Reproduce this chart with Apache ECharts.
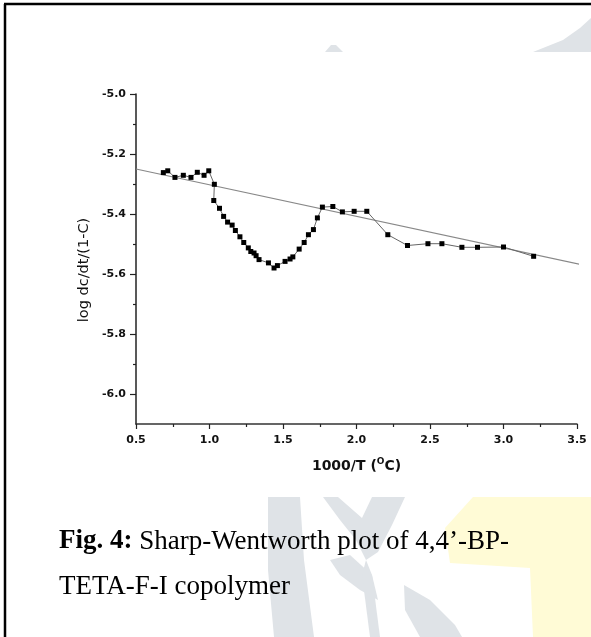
<!DOCTYPE html>
<html><head><meta charset="utf-8">
<script src="https://cdn.jsdelivr.net/npm/echarts@6/dist/echarts.min.js"></script>
<style>html,body{margin:0;padding:0;background:#fff}#c{width:591px;height:637px}</style>
</head><body><div id="c"></div>
<script>
// measured points, in order of acquisition: [1000/T, log dc/dt/(1-C)]
const xData = [0.686,0.716,0.765,0.822,0.874,0.917,0.963,0.995,1.033,1.029,1.068,1.096,1.123,1.154,1.176,1.207,1.233,1.264,1.281,1.303,1.317,1.337,1.401,1.439,1.462,1.514,1.548,1.567,1.610,1.644,1.673,1.707,1.734,1.768,1.839,1.904,1.984,2.070,2.213,2.347,2.486,2.581,2.717,2.823,3.000,3.205];
const yData = [-5.262,-5.256,-5.278,-5.271,-5.278,-5.261,-5.271,-5.256,-5.301,-5.355,-5.381,-5.408,-5.427,-5.437,-5.455,-5.476,-5.495,-5.513,-5.525,-5.530,-5.539,-5.552,-5.563,-5.580,-5.572,-5.558,-5.550,-5.543,-5.517,-5.495,-5.469,-5.452,-5.413,-5.377,-5.375,-5.393,-5.391,-5.391,-5.469,-5.505,-5.499,-5.499,-5.511,-5.511,-5.510,-5.541];
// linear fit line end points
const fitX = [0.5, 3.516];
const fitY = [-5.25, -5.567];
// axis ticks
const xTicks = [0.5,1.0,1.5,2.0,2.5,3.0,3.5];
const yMajor = [-6.0,-5.8,-5.6,-5.4,-5.2,-5.0];
const yMinor = [-5.9,-5.7,-5.5,-5.3,-5.1];
const xTitle = '1000/T ({s|O}C)';
const yTitle = 'log dc/dt/(1-C)';

const pts = xData.map((x,i)=>[x,yData[i]]);
const fit = fitX.map((x,i)=>[x,fitY[i]]);
const lab = {fontFamily:'DejaVu Sans',fontWeight:'bold',fontSize:11,color:'#111'};
const chart = echarts.init(document.getElementById('c'),null,{renderer:'canvas'});
chart.setOption({
  animation:false,
  backgroundColor:'#fff',
  grid:{left:136,right:14,top:94,bottom:213},
  xAxis:{type:'value',min:0.5,max:3.5,interval:0.5,
    axisLine:{lineStyle:{color:'#333',width:1.5}},
    axisTick:{inside:false,length:5,lineStyle:{color:'#222',width:1.2}},
    minorTick:{show:true,splitNumber:2,length:3,lineStyle:{color:'#222',width:1.2}},
    splitLine:{show:false},minorSplitLine:{show:false},
    axisLabel:Object.assign({margin:11,formatter:v=>v.toFixed(1)},lab),
    name:xTitle,nameLocation:'middle',nameGap:33,
    nameTextStyle:{fontFamily:'DejaVu Sans',fontWeight:'bold',fontSize:14,color:'#111',
      rich:{s:{fontFamily:'DejaVu Sans',fontWeight:'bold',fontSize:9,color:'#111',padding:[0,0,9,0]}}}
  },
  yAxis:[{type:'value',min:-6.1,max:-5.0,
    axisLine:{show:true,lineStyle:{color:'#222',width:1.5}},
    axisTick:{show:true,length:6,customValues:yMajor,lineStyle:{color:'#222',width:1.2}},
    splitLine:{show:false},
    axisLabel:Object.assign({margin:10,customValues:yMajor,formatter:v=>v.toFixed(1)},lab)
  },{type:'value',min:-6.1,max:-5.0,position:'left',
    axisLine:{show:false},axisLabel:{show:false},splitLine:{show:false},
    axisTick:{show:true,length:3,customValues:yMinor,lineStyle:{color:'#222',width:1.2}}
  }],
  series:[
    {type:'line',data:fit,symbol:'none',clip:false,lineStyle:{color:'#888',width:1.2},z:1},
    {type:'line',data:pts,symbol:'rect',symbolSize:5,itemStyle:{color:'#000'},lineStyle:{color:'#666',width:1},z:3}
  ],
  graphic:[
    {type:'polygon',z:-20,shape:{points:[[533,52],[563,40],[580,28],[591,18],[591,52]]},style:{fill:'#dfe3e7'}},
    {type:'polygon',z:-20,shape:{points:[[325,52],[331,45],[336,45],[343,52]]},style:{fill:'#dfe3e7'}},
    {type:'polygon',z:-20,shape:{points:[[473,497],[591,497],[591,637],[533,637],[530,568],[450,563],[445,528]]},style:{fill:'#fffbd6'}},
    {type:'polygon',z:-19,shape:{points:[[268,497],[300,497],[304,560],[314,637],[274,637],[268,570]]},style:{fill:'#dfe3e7'}},
    {type:'polygon',z:-19,shape:{points:[[323,497],[338,497],[362,518],[372,497],[405,497],[392,525],[378,552],[366,560],[356,540],[340,520]]},style:{fill:'#dfe3e7'}},
    {type:'polygon',z:-19,shape:{points:[[330,560],[350,555],[372,575],[378,600],[360,590],[340,575]]},style:{fill:'#dfe3e7'}},
    {type:'polygon',z:-19,shape:{points:[[404,585],[430,600],[455,625],[462,637],[420,637],[405,610]]},style:{fill:'#dfe3e7'}},
    {type:'polygon',z:-19,shape:{points:[[366,560],[372,575],[380,637],[370,637],[362,575]]},style:{fill:'#dfe3e7'}},
    {type:'line',z:50,shape:{x1:4,y1:4,x2:591,y2:4},style:{stroke:'#000',lineWidth:2.5}},
    {type:'line',z:50,shape:{x1:5,y1:4,x2:5,y2:637},style:{stroke:'#000',lineWidth:2.5}},
    {type:'text',z:50,x:84,y:270,rotation:Math.PI/2,style:{text:yTitle,fill:'#111',
      font:'14.5px "DejaVu Sans"',textAlign:'center',textVerticalAlign:'middle'}},
    {type:'text',z:50,x:59,y:555,style:{text:'{b|Fig. 4:} Sharp-Wentworth plot of 4,4’-BP-',
      fill:'#000',font:'27px "Liberation Serif"',textVerticalAlign:'bottom',
      rich:{b:{fontFamily:'Liberation Serif',fontWeight:'bold',fontSize:27,fill:'#000'}}}},
    {type:'text',z:50,x:59,y:600,style:{text:'TETA-F-I copolymer',fill:'#000',font:'27px "Liberation Serif"',textVerticalAlign:'bottom'}}
  ]
});
</script></body></html>
